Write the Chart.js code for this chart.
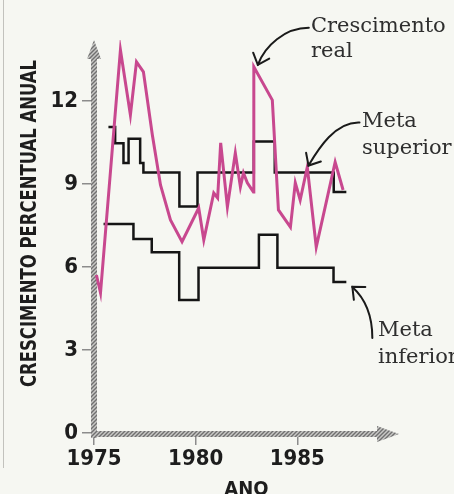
<!DOCTYPE html>
<html>
<head>
<meta charset="utf-8">
<script src="https://cdn.jsdelivr.net/npm/chart.js@4.4.1/dist/chart.umd.min.js"></script>
<style>
  html, body { margin: 0; padding: 0; background: #f6f7f2; }
  #wrap { position: relative; width: 454px; height: 494px; }
  #edge { position: absolute; left: 3px; top: 0; width: 1px; height: 468px; background: #c2c2bd; }
</style>
</head>
<body>
<div id="wrap"><div id="edge"></div><canvas id="c" width="454" height="494"></canvas></div>
<script>
// Real annual growth (quarterly readings)
const realYears = [1975.12, 1975.32, 1976.30, 1976.79, 1977.09, 1977.43, 1977.87, 1978.27, 1978.76, 1979.33,
                   1980.15, 1980.40, 1980.89, 1981.08, 1981.23, 1981.56, 1981.95, 1982.20, 1982.35, 1982.54,
                   1982.84, 1982.86, 1983.77, 1984.07, 1984.66, 1984.90, 1985.14, 1985.49, 1985.93, 1986.86, 1987.25];
const realGrowth = [5.71, 5.06, 13.84, 11.49, 13.41, 13.05, 10.77, 8.96, 7.70, 6.91,
                    8.13, 6.97, 8.67, 8.49, 10.48, 8.17, 10.12, 8.89, 9.40, 9.04,
                    8.71, 13.23, 12.03, 8.06, 7.44, 9.04, 8.42, 9.61, 6.72, 9.79, 8.78];

// Upper target band (value holds until the next change)
const upperYears  = [1975.71, 1976.04, 1976.45, 1976.70, 1977.27, 1977.43, 1979.20, 1980.09, 1982.86, 1983.89, 1986.79, 1987.41];
const upperTarget = [11.06, 10.47, 9.76, 10.63, 9.76, 9.41, 8.18, 9.41, 10.53, 9.41, 8.71, 8.71];

// Lower target band
const lowerYears  = [1975.47, 1976.94, 1977.84, 1979.19, 1980.14, 1983.11, 1984.02, 1986.78, 1987.41];
const lowerTarget = [7.55, 7.01, 6.53, 4.81, 5.97, 7.16, 5.97, 5.46, 5.46];

const xTicks = [1975, 1980, 1985];
const yTicks = [0, 3, 6, 9, 12];
const yTitle = 'CRESCIMENTO PERCENTUAL ANUAL';
const xTitle = 'ANO';

const pts = (xs, ys) => xs.map((x, i) => ({ x: x, y: ys[i] }));

const narrow = "'Liberation Sans Narrow', 'DejaVu Sans Condensed', 'Roboto Condensed', sans-serif";
const serif = "'DejaVu Serif', 'Liberation Serif', serif";

// Callout labels: each arrow tip hangs off a data point
const callouts = [
  { lines: ['Crescimento', 'real'], textX: 311, baselines: [32, 57],
    anchor: { x: 1982.86, y: 13.23 }, tipOff: [4, -2],
    path: [[51, -37], [27, -37], [7, -19]] },
  { lines: ['Meta', 'superior'], textX: 362, baselines: [127, 154],
    anchor: { x: 1985.55, y: 9.41 }, tipOff: [0, -7],
    path: [[51, -43], [27, -44], [10, -17]] },
  { lines: ['Meta', 'inferior'], textX: 378, baselines: [336, 363],
    anchor: { x: 1987.41, y: 5.46 }, tipOff: [6, 5],
    path: [[20, 51], [20, 23], [10, 9]] }
];

function hatchPattern(ctx) {
  const p = document.createElement('canvas');
  p.width = 4; p.height = 4;
  const g = p.getContext('2d');
  g.fillStyle = '#c9c9c6';
  g.fillRect(0, 0, 4, 4);
  g.strokeStyle = '#707070';
  g.lineWidth = 1.4;
  g.beginPath();
  g.moveTo(0, 4); g.lineTo(4, 0);
  g.moveTo(-1, 1); g.lineTo(1, -1);
  g.moveTo(3, 5); g.lineTo(5, 3);
  g.stroke();
  return ctx.createPattern(p, 'repeat');
}

// Rope-like axes with arrowheads
const ropeAxes = {
  id: 'ropeAxes',
  beforeDatasetsDraw(chart) {
    const { ctx, chartArea: a } = chart;
    const pat = hatchPattern(ctx);
    ctx.save();
    ctx.fillStyle = pat;
    const x0 = a.left, y0 = a.bottom + 1;
    // vertical
    ctx.fillRect(x0 - 3, a.top + 17, 6, y0 + 4 - (a.top + 17));
    ctx.beginPath();
    ctx.moveTo(x0 - 7, a.top + 19);
    ctx.lineTo(x0, a.top);
    ctx.lineTo(x0 + 7, a.top + 19);
    ctx.closePath();
    ctx.fill();
    // horizontal
    ctx.fillRect(x0 - 3, y0 - 3, a.right - 20 - x0 + 5, 6);
    ctx.beginPath();
    ctx.moveTo(a.right - 22, y0 - 8);
    ctx.lineTo(a.right, y0);
    ctx.lineTo(a.right - 22, y0 + 8);
    ctx.closePath();
    ctx.fill();
    ctx.restore();
  }
};

// Rotated y title and callout labels with curved arrows
const decorations = {
  id: 'decorations',
  afterDraw(chart) {
    const { ctx } = chart;
    const xs = chart.scales.x, ys = chart.scales.y;
    ctx.save();
    // y title
    ctx.fillStyle = '#1d1d1d';
    ctx.font = "bold 21px " + narrow;
    const w = ctx.measureText(yTitle).width;
    ctx.translate(29.5, 223.5);
    ctx.rotate(-Math.PI / 2);
    ctx.scale(327 / w, 1);
    ctx.textAlign = 'center';
    ctx.textBaseline = 'middle';
    ctx.fillText(yTitle, 0, 1);
    ctx.restore();

    ctx.save();
    ctx.fillStyle = '#2e2e2e';
    ctx.strokeStyle = '#1a1a1a';
    ctx.lineWidth = 2;
    ctx.lineCap = 'round';
    ctx.font = "21px " + serif;
    ctx.textBaseline = 'alphabetic';
    callouts.forEach(c => {
      c.lines.forEach((t, i) => ctx.fillText(t, c.textX, c.baselines[i]));
      const tx = xs.getPixelForValue(c.anchor.x) + c.tipOff[0];
      const ty = ys.getPixelForValue(c.anchor.y) + c.tipOff[1];
      const [s, c1, c2] = c.path.map(o => [tx + o[0], ty + o[1]]);
      ctx.beginPath();
      ctx.moveTo(s[0], s[1]);
      ctx.bezierCurveTo(c1[0], c1[1], c2[0], c2[1], tx, ty);
      ctx.stroke();
      const ang = Math.atan2(ty - c2[1], tx - c2[0]);
      const L = 13, spread = 0.72;
      ctx.beginPath();
      ctx.moveTo(tx - L * Math.cos(ang - spread), ty - L * Math.sin(ang - spread));
      ctx.lineTo(tx, ty);
      ctx.lineTo(tx - L * Math.cos(ang + spread), ty - L * Math.sin(ang + spread));
      ctx.stroke();
    });
    ctx.restore();
  }
};

const tickFont = { family: narrow, weight: 'bold', size: 22, lineHeight: 1 };

new Chart(document.getElementById('c'), {
  type: 'line',
  data: {
    datasets: [
      { label: 'Crescimento real', data: pts(realYears, realGrowth),
        borderColor: '#c8488f', borderWidth: 3, pointRadius: 0, tension: 0,
        borderJoinStyle: 'miter', order: 1 },
      { label: 'Meta superior', data: pts(upperYears, upperTarget),
        borderColor: '#151515', borderWidth: 2.5, pointRadius: 0, stepped: 'before', order: 2 },
      { label: 'Meta inferior', data: pts(lowerYears, lowerTarget),
        borderColor: '#151515', borderWidth: 2.5, pointRadius: 0, stepped: 'before', order: 2 }
    ]
  },
  options: {
    responsive: false,
    animation: false,
    events: [],
    layout: { padding: { top: 40, right: 55, bottom: 0, left: 0 } },
    plugins: { legend: { display: false }, tooltip: { enabled: false } },
    scales: {
      x: {
        type: 'linear', min: 1975, max: 1990,
        afterBuildTicks: s => { s.ticks = xTicks.map(v => ({ value: v })); },
        afterFit: s => { s.height = 61; },
        border: { display: false },
        grid: { drawOnChartArea: false, drawTicks: true, tickLength: 12, color: '#8c8c8c', lineWidth: 1.5 },
        ticks: { color: '#1d1d1d', font: tickFont, padding: 3, maxRotation: 0, callback: v => String(v) },
        title: { display: true, text: xTitle, color: '#1d1d1d',
                 font: { family: narrow, weight: 'bold', size: 20, lineHeight: 0.4 }, padding: 0 }
      },
      y: {
        min: 0, max: 14.2,
        afterBuildTicks: s => { s.ticks = yTicks.map(v => ({ value: v })); },
        afterFit: s => { s.width = 94; },
        border: { display: false },
        grid: { drawOnChartArea: false, drawTicks: true, tickLength: 12, color: '#8c8c8c', lineWidth: 1.5 },
        ticks: { color: '#1d1d1d', font: tickFont, padding: 4, callback: v => String(v) }
      }
    }
  },
  plugins: [ropeAxes, decorations]
});
</script>
</body>
</html>
